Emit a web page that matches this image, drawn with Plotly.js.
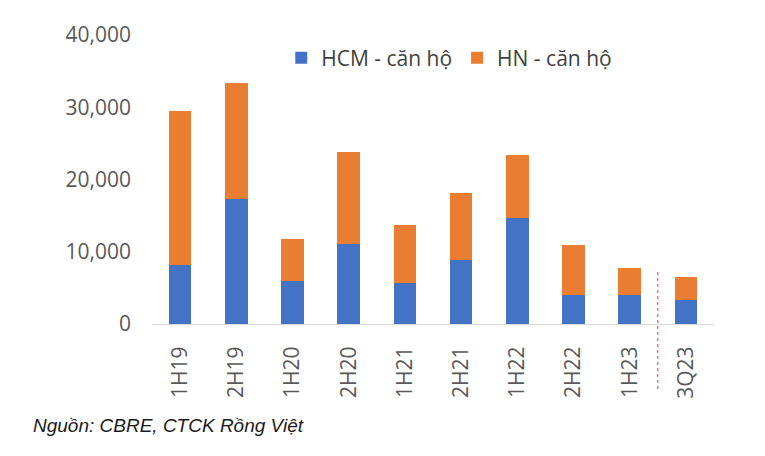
<!DOCTYPE html>
<html>
<head>
<meta charset="utf-8">
<script src="https://cdn.plot.ly/plotly-3.0.1.min.js"></script>
<style>
  html, body { margin: 0; padding: 0; background: #fff; }
  #chart { width: 765px; height: 456px; }
</style>
</head>
<body>
<div id="chart"></div>
<script>
// ky bao cao
var periods = ['1H19', '2H19', '1H20', '2H20', '1H21', '2H21', '1H22', '2H22', '1H23', '3Q23'];
// so can ho (doc tu hinh)
var hcm = [8200, 17300, 6000, 11100, 5700, 8900, 14700, 4000, 4000, 3300];
var hnTotal = [29500, 33300, 11800, 23800, 13750, 18200, 23400, 10900, 7800, 6500];
var hn = hnTotal.map(function (t, i) { return t - hcm[i]; });
var yTicks = [0, 10000, 20000, 30000, 40000];
var yTickText = ['0', '10,000', '20,000', '30,000', '40,000'];

var fontName = 'Open Sans, Liberation Sans, sans-serif';

var data = [
    {
        x: periods, y: hcm,
        name: 'HCM - căn hộ',
        type: 'bar',
        marker: { color: '#4472C4' }
    },
    {
        x: periods, y: hn,
        name: 'HN - căn hộ',
        type: 'bar',
        marker: { color: '#E97D32' }
    }
];

var layout = {
    width: 765,
    height: 456,
    barmode: 'stack',
    bargap: 0.6,
    paper_bgcolor: '#fff',
    plot_bgcolor: '#fff',
    margin: { l: 152, r: 51, t: 35, b: 132 },
    font: { family: fontName, color: '#595959', size: 21 },
    showlegend: true,
    legend: {
        orientation: 'h',
        x: 0.23, xanchor: 'left',
        y: 0.92, yanchor: 'middle',
        font: { size: 21, color: '#404040' },
        itemwidth: 30,
        traceorder: 'normal',
        bgcolor: 'rgba(0,0,0,0)'
    },
    xaxis: {
        type: 'category',
        range: [-0.5, 9.5],
        tickangle: -90,
        showline: true,
        linecolor: '#d9d9d9',
        linewidth: 1,
        ticks: '',
        ticklabelstandoff: 13,
        showgrid: false,
        zeroline: false,
        fixedrange: true
    },
    yaxis: {
        range: [0, 40000],
        tickvals: yTicks,
        ticktext: yTickText,
        showgrid: false,
        zeroline: false,
        showline: false,
        ticks: '',
        ticklabelstandoff: 20,
        fixedrange: true
    },
    shapes: [
        {
            type: 'line',
            xref: 'x', yref: 'paper',
            x0: 8.5, x1: 8.5,
            y0: 0.18, y1: -0.235,
            line: { color: '#e0303a', width: 1, dash: 'dot' }
        }
    ],
    annotations: [
        {
            text: '<i>Nguồn: CBRE, CTCK Rồng Việt</i>',
            xref: 'paper', yref: 'paper',
            x: -0.215, y: -0.35,
            xanchor: 'left', yanchor: 'middle',
            showarrow: false,
            font: { family: 'Liberation Sans Narrow, Liberation Sans, sans-serif', size: 19, color: '#1a1a1a' }
        }
    ]
};

Plotly.newPlot('chart', data, layout, { displayModeBar: false, staticPlot: true });
</script>
</body>
</html>
